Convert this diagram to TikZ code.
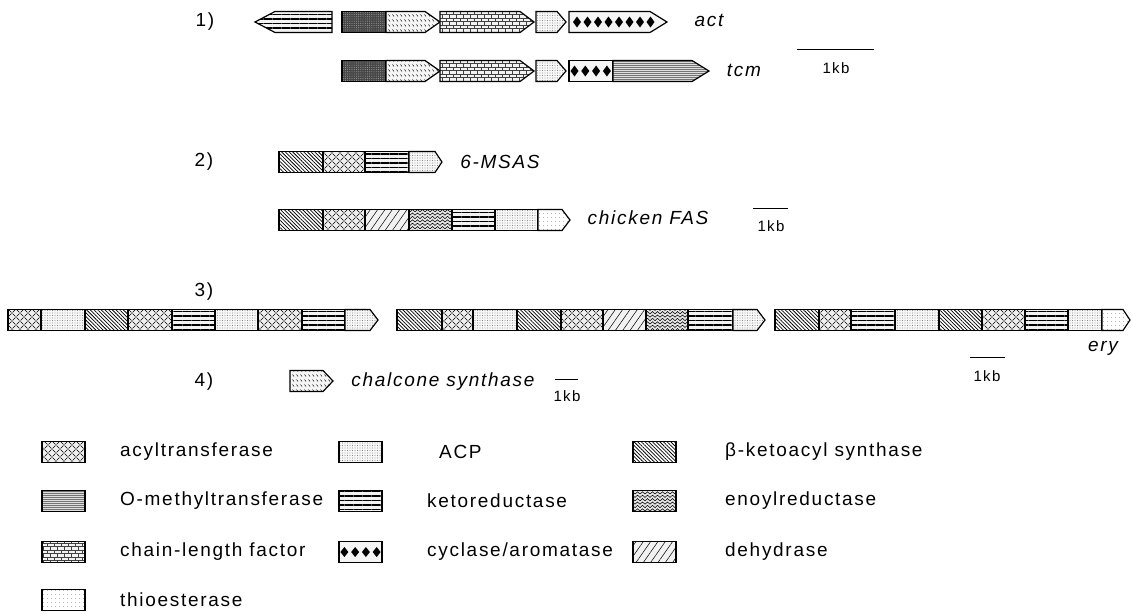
\documentclass[tikz,border=0pt]{standalone}
\usepackage{fontspec}
\setmainfont{Liberation Sans}[LetterSpace=9]
\usepackage{tikz}
\usetikzlibrary{patterns, patterns.meta}

% Các mẫu tô
\tikzdeclarepattern{name=atpat, bottom left={(-.5pt,-.5pt)}, top right={(8.5pt,8.5pt)},
    tile size={(8pt,8pt)},
    code={\tikzset{x=1pt,y=1pt}
        \draw[line width=.45pt] (0.5,0.5)--(3.5,3.5) (4.5,3.5)--(7.5,0.5) (0.5,7.5)--(3.5,4.5) (4.5,4.5)--(7.5,7.5);}}
\tikzdeclarepattern{name=erpat, bottom left={(-.5pt,-.5pt)}, top right={(5.5pt,4pt)},
    tile size={(5pt,3.4pt)},
    code={\tikzset{x=1pt,y=1pt} \draw[line width=.55pt] (0,0)--(2.5,2.2)--(5,0);}}
\tikzdeclarepattern{name=clfpat, bottom left={(-.3pt,-.3pt)}, top right={(7.3pt,7.3pt)},
    tile size={(7pt,7pt)},
    code={\tikzset{x=1pt,y=1pt}
        \draw[line width=.3pt] (0,0)--(7,0) (0,3.5)--(7,3.5) (1.5,0)--(1.5,3.5) (5,3.5)--(5,7);}}
\tikzdeclarepattern{name=chspat, bottom left={(-.3pt,-.3pt)}, top right={(4.3pt,5.3pt)},
    tile size={(4pt,5pt)},
    code={\tikzset{x=1pt,y=1pt} \draw[line width=.45pt] (0.5,3.5)--(2,1.5);}}

\tikzset{
    domline/.style={draw=black, line width=1.2pt, line join=miter},
    kas/.style={preaction={fill=white}, pattern={Lines[angle=-45,distance=2.6pt,line width=.75pt]}},
    atr/.style={preaction={fill=gray!12}, pattern=atpat},
    acp/.style={preaction={fill=gray!6}, pattern={Dots[radius=.4pt,distance=2.5pt]}, pattern color=black!70},
    krd/.style={preaction={fill=gray!10}, pattern={Lines[angle=0,distance=4.5pt,line width=1.1pt]}},
    enr/.style={preaction={fill=gray!20}, pattern=erpat},
    dhy/.style={preaction={fill=gray!10}, pattern={Lines[angle=55,distance=6pt,line width=.5pt]}},
    omt/.style={preaction={fill=gray!25}, pattern={Lines[angle=0,distance=2pt,line width=.3pt]}, pattern color=black!55},
    clf/.style={preaction={fill=gray!10}, pattern=clfpat, pattern color=black!75},
    cyc/.style={fill=gray!8},
    thio/.style={preaction={fill=white}, pattern={Dots[radius=.3pt,distance=4pt]}},
    chsd/.style={preaction={fill=gray!8}, pattern=chspat},
    dark/.style={preaction={fill=black!72}, pattern={Dots[radius=.45pt,distance=2.2pt]}, pattern color=gray!60},
    lab/.style={inner sep=0pt, font=\fontsize{19}{21}\selectfont},
    gene/.style={inner sep=0pt, font=\fontsize{19}{21}\selectfont\itshape},
    kb/.style={inner sep=0pt, font=\fontsize{15}{17}\selectfont}
}

% hộp: kiểu, x0, x1, y
\newcommand{\genbox}[4]{\draw[domline,#1] (#2,#4-10.5) rectangle (#3,#4+10.5);}
% mũi tên phải: kiểu, x0, x đầu nhọn, x mũi, y
\newcommand{\genarrow}[5]{\draw[domline,#1] (#2,#5-10.5) -- (#3,#5-10.5) -- (#4,#5) -- (#3,#5+10.5) -- (#2,#5+10.5) -- cycle;}
% mũi tên trái: kiểu, x mũi, x đầu nhọn, x1, y
\newcommand{\genleft}[5]{\draw[domline,#1] (#2,#5) -- (#3,#5-10.5) -- (#4,#5-10.5) -- (#4,#5+10.5) -- (#3,#5+10.5) -- cycle;}
% hình thoi: x, y, nửa chiều cao
\newcommand{\kimcuong}[3]{\fill (#1-4,#2) -- (#1,#2-#3) -- (#1+4,#2) -- (#1,#2+#3) -- cycle;}

\begin{document}
\begin{tikzpicture}[x=1pt, y=-1pt]
    \useasboundingbox (0,0) rectangle (1131,613);

    % Hàng 1: act, tcm
    \node[lab] (so1) at (205,22) {1)};
    \genleft{krd}{255}{275}{332}{22}
    \genbox{dark}{342}{386}{22}
    \genarrow{chsd}{386}{425}{440}{22}
    \genarrow{clf}{440}{520}{534}{22}
    \genarrow{acp}{536}{557}{566}{22}
    \genarrow{cyc}{569}{650}{667}{22}
    \foreach \i in {0,...,7} {\kimcuong{577+10.5*\i}{22}{5.5}}
    \node[gene] (act) at (709,20) {act};

    \genbox{dark}{342}{386}{71}
    \genarrow{chsd}{386}{425}{440}{71}
    \genarrow{clf}{440}{520}{534}{71}
    \genarrow{acp}{536}{557}{566}{71}
    \genbox{cyc}{569}{613}{71}
    \foreach \i in {0,...,3} {\kimcuong{574.5+10.8*\i}{71}{5.5}}
    \genarrow{omt}{613}{692}{709}{71}
    \node[gene] (tcm) at (744,70) {tcm};
    \draw[line width=1pt] (797,49) -- (874,49);
    \node[kb] (kb1) at (836,68) {1kb};

    % Hàng 2: 6-MSAS, chicken FAS
    \node[lab] (so2) at (204,162) {2)};
    \foreach \s/\a/\b in {kas/279/323, atr/323/365, krd/365/409} {\genbox{\s}{\a}{\b}{162}}
    \genarrow{acp}{409}{435}{442}{162}
    \node[gene] (msas) at (500,162) {6-MSAS};

    \foreach \s/\a/\b in {kas/279/323, atr/323/365, dhy/365/409, enr/409/452, krd/452/495, acp/495/538}
        {\genbox{\s}{\a}{\b}{220}}
    \genarrow{thio}{538}{562}{570}{220}
    \node[gene] (fas) at (648,218) {chicken FAS};
    \draw[line width=1pt] (753,208) -- (788,208);
    \node[kb] (kb2) at (771,226) {1kb};

    % Hàng 3: ery
    \node[lab] (so3) at (204,292) {3)};
    \foreach \s/\a/\b in {atr/8/41, acp/41/85, kas/85/128, atr/128/172, krd/172/215, acp/215/258, atr/258/302, krd/302/345}
        {\genbox{\s}{\a}{\b}{320}}
    \genarrow{acp}{345}{370}{378}{320}
    \foreach \s/\a/\b in {kas/397/442, atr/442/473, acp/473/517, kas/517/561, atr/561/603, dhy/603/646, enr/646/688, krd/688/733}
        {\genbox{\s}{\a}{\b}{320}}
    \genarrow{acp}{733}{757}{765}{320}
    \foreach \s/\a/\b in {kas/775/819, atr/819/851, krd/851/895, acp/895/939, kas/939/982, atr/982/1025, krd/1025/1068, acp/1068/1102}
        {\genbox{\s}{\a}{\b}{320}}
    \genarrow{thio}{1102}{1123}{1130}{320}
    \node[gene] (ery) at (1103,348) {ery};
    \draw[line width=1pt] (970,357) -- (1005,357);
    \node[kb] (kb3) at (987,376) {1kb};

    % Hàng 4: chalcone synthase
    \node[lab] (so4) at (204,382) {4)};
    \genarrow{chsd}{290}{323}{333}{381}
    \node[gene] (chs) at (443,382) {chalcone synthase};
    \draw[line width=1pt] (555,379) -- (578,379);
    \node[kb] (kb4) at (567,396) {1kb};

    % Chú thích
    \genbox{atr}{42}{85}{452}
    \node[lab, anchor=west] (lgat) at (120,452) {acyltransferase};
    \genbox{omt}{42}{85}{501}
    \node[lab, anchor=west] (lgomt) at (120,501) {O-methyltransferase};
    \genbox{clf}{42}{85}{552}
    \node[lab, anchor=west] (lgclf) at (120,552) {chain-length factor};
    \genbox{thio}{42}{85}{600}
    \node[lab, anchor=west] (lgte) at (120,600) {thioesterase};

    \genbox{acp}{339}{382}{452}
    \node[lab, anchor=west] (lgacp) at (439,452) {ACP};
    \genbox{krd}{339}{382}{501}
    \node[lab, anchor=west] (lgkr) at (427,501) {ketoreductase};
    \genbox{cyc}{339}{382}{552}
    \foreach \i in {0,...,3} {\kimcuong{344.4+10.75*\i}{552}{5}}
    \node[lab, anchor=west] (lgcyc) at (427,552) {cyclase/aromatase};

    \genbox{kas}{633}{676}{452}
    \node[lab, anchor=west] (lgks) at (725,452) {β-ketoacyl synthase};
    \genbox{enr}{633}{676}{501}
    \node[lab, anchor=west] (lger) at (725,501) {enoylreductase};
    \genbox{dhy}{633}{676}{552}
    \node[lab, anchor=west] (lgdh) at (725,552) {dehydrase};
\end{tikzpicture}
\end{document}
